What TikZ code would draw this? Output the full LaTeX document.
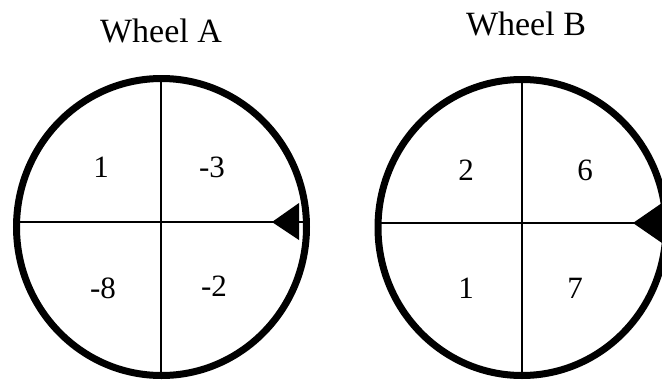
\documentclass[tikz,border=0pt]{standalone}
\usepackage{fontspec}
\setmainfont{Liberation Serif}
\begin{document}
\begin{tikzpicture}[x=1pt,y=-1pt,
  rim/.style={line width=7pt},
  spoke/.style={line width=1.3pt},
  wtitle/.style={font=\fontsize{34}{40}\selectfont, anchor=base, inner sep=0pt},
  num/.style={font=\fontsize{31}{36}\selectfont, inner sep=0pt},
  pointer/.style={fill=black}]
\useasboundingbox (0,0) rectangle (662,380);
\clip (0,0) rectangle (662,380);
% ---------- Wheel A ----------
\node[wtitle] (ta) at (161,42) {Wheel A};
\coordinate (ca) at (161.5,227);
\coordinate (an) at (161,78);
\coordinate (as) at (161,376);
\coordinate (aw) at (17,222);
\coordinate (ae) at (306,222);
\coordinate (atip) at (272,222);
\draw[rim] (ca) ellipse [x radius=145, y radius=148.5];
\draw[spoke] (an) -- (as);
\draw[spoke] (aw) -- (ae);
\fill[pointer] (atip) -- ++(27,-19) -- ++(0,37) -- cycle;
\node[num] (a1) at (101,167) {1};
\node[num] (a2) at (212,167) {-3};
\node[num] (a3) at (103,288) {-8};
\node[num] (a4) at (214,286) {-2};
% ---------- Wheel B ----------
\node[wtitle] (tb) at (526,35) {Wheel B};
\coordinate (cb) at (522,227.5);
\coordinate (bn) at (522,79);
\coordinate (bs) at (522,376);
\coordinate (bw) at (378,223);
\coordinate (be) at (662,223);
\coordinate (btip) at (633,223);
\draw[rim] (cb) ellipse [x radius=144, y radius=148];
\draw[spoke] (bn) -- (bs);
\draw[spoke] (bw) -- (be);
\fill[pointer] (btip) -- ++(29,-20) -- ++(0,40) -- cycle;
\node[num] (b1) at (466,170) {2};
\node[num] (b2) at (585,170) {6};
\node[num] (b3) at (466,288) {1};
\node[num] (b4) at (575,288) {7};
\end{tikzpicture}
\end{document}
